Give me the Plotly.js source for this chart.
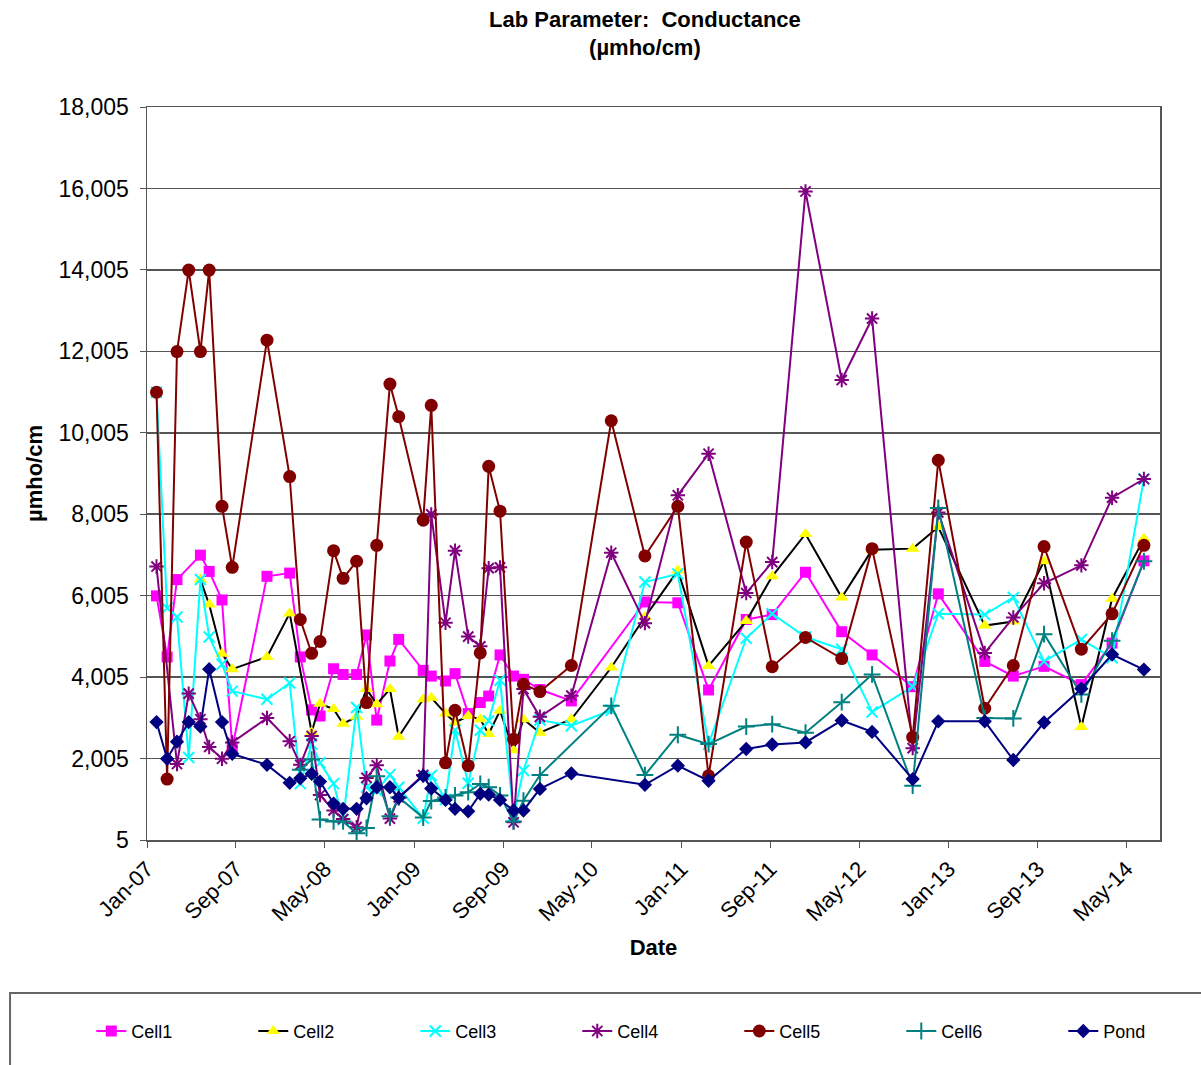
<!DOCTYPE html>
<html><head><meta charset="utf-8">
<script src="https://cdn.plot.ly/plotly-3.0.1.min.js"></script>
<style>body{margin:0;background:#fff}#chart{width:1201px;height:1065px}</style>
</head><body><div id="chart"></div>
<script>
const dates = ['2007-01-27','2007-02-25','2007-03-24','2007-04-25','2007-05-27','2007-06-20','2007-07-25','2007-08-22','2007-11-25','2008-01-26','2008-02-24','2008-03-26','2008-04-18','2008-05-25','2008-06-20','2008-07-27','2008-08-23','2008-09-20','2008-10-26','2008-11-19','2009-01-25','2009-02-16','2009-03-27','2009-04-22','2009-05-28','2009-06-30','2009-07-23','2009-08-23','2009-09-29','2009-10-26','2009-12-10','2010-03-06','2010-06-23','2010-09-23','2010-12-22','2011-03-16','2011-06-27','2011-09-06','2011-12-06','2012-03-14','2012-06-05','2012-09-24','2012-12-03','2013-04-09','2013-06-26','2013-09-18','2013-12-29','2014-03-23','2014-06-18'];
const cell1 = [6000,4500,6400,null,7000,6600,5900,2260,6480,6560,4500,3200,3050,4210,4070,4070,5040,2950,4400,4930,4170,4030,3910,4090,3110,3380,3540,4550,4030,3950,3700,3420,null,5850,5830,3690,5420,5540,6580,5120,4550,3770,6050,4390,4030,4270,3820,4840,6860];
const cell2 = [null,null,null,null,6400,5790,4580,4200,4500,5570,null,2650,3350,3220,2860,3030,3710,3340,3710,2540,3460,3500,3110,2890,3050,2970,2610,3180,2210,2970,2640,2970,4240,5480,6620,4280,5380,6480,7520,5960,7130,7160,7690,5270,5370,6850,2780,5930,7400];
const cell3 = [11000,5700,5480,2030,6400,4990,4320,3660,3460,3860,1390,2360,1900,1390,500,3260,1300,1220,1610,1300,540,1590,1000,2700,1400,2700,2930,3930,600,1710,2950,2810,3190,6340,6540,2360,4960,5560,4990,4690,3150,3770,5560,5540,5960,4390,4930,4480,8870];
const cell4 = [6720,null,1870,3600,2970,2290,2000,2400,3000,2430,1850,2560,1110,730,520,320,1530,1840,530,1050,1600,8000,5340,7110,5000,4760,6680,6700,440,3710,3030,3550,7060,5330,8470,9490,6070,6830,15930,11300,12810,2260,8050,4600,5470,6310,6750,8410,8870];
const cell5 = [11000,1500,12000,14000,12000,14000,8200,6700,12280,8930,5420,4590,4880,7110,6430,6850,3380,7240,11200,10400,7860,10680,1900,3190,1830,4600,9180,8080,2480,3830,3650,4290,10300,6980,8200,1580,7320,4260,4980,4460,7160,2530,9330,3240,4290,7210,4690,5560,7240];
const cell6 = [null,null,null,null,null,null,null,null,null,null,1730,1980,510,460,460,170,300,1570,590,1050,555,960,1050,1100,1180,1380,1300,1100,460,970,1600,null,3300,1600,2590,2360,2790,2850,2640,3390,4070,1340,8160,3000,2990,5060,3580,4900,6850];
const pond = [2900,2000,2420,2900,2790,4200,2900,2120,1850,1410,1520,1630,1440,900,770,770,1030,1300,1300,1040,1580,1270,990,770,710,1140,1120,990,730,730,1260,1640,null,1360,1830,1460,2240,2350,2400,2940,2660,1500,2920,2920,1970,2890,3720,4560,4190];

const seriesNames = ['Cell1','Cell2','Cell3','Cell4','Cell5','Cell6','Pond'];
const seriesData = [cell1,cell2,cell3,cell4,cell5,cell6,pond];
const lineColors = ['#FF00FF','#000000','#00FFFF','#800080','#800000','#008080','#000080'];
const markerColors = ['#FF00FF','#FFFF00','#00FFFF','#800080','#800000','#008080','#000080'];
const symbols = ['square','triangle-up','x-thin-open','asterisk-open','circle','cross-thin-open','diamond'];
const sizes = [11,12,11,12,13,12,11];

const traces = seriesNames.map((n,i)=>({
  x: dates, y: seriesData[i], name: n, type:'scatter', mode:'lines+markers',
  connectgaps: true,
  line:{color: lineColors[i], width: 2},
  marker:{symbol: symbols[i], size: sizes[i], color: markerColors[i],
    line:{color: markerColors[i], width: symbols[i].includes('open') ? 2 : 0}}
}));

const F = 'Arial, "Liberation Sans", sans-serif';
const layout = {
  width:1201, height:1065,
  paper_bgcolor:'#fff', plot_bgcolor:'#fff',
  margin:{l:147, r:41, t:107, b:225, autoexpand:false},
  font:{family:F, color:'#000'},
  title:{text:'<b>Lab Parameter:  Conductance<br>(µmho/cm)</b>', font:{family:F, size:22, color:'#000'},
    xref:'container', x:0.537, xanchor:'center', yref:'container', y:0.975, yanchor:'top'},
  xaxis:{type:'date', range:['2007-01-01','2014-08-01'], tick0:'2007-01-01', dtick:'M8', tickformat:'%b-%y',
    tickangle:-45, tickfont:{family:F, size:22}, ticks:'outside', ticklen:6, tickcolor:'#555',
    showgrid:false, showline:true, linecolor:'#555', linewidth:1.5, mirror:true, zeroline:false,
    title:{text:'<b>Date</b>', font:{family:F, size:22}, standoff:14}},
  yaxis:{range:[5,18005], tick0:5, dtick:2000, tickformat:',d', tickfont:{family:F, size:23},
    ticks:'outside', ticklen:6, tickcolor:'#555', ticklabelstandoff:6, showgrid:true, gridcolor:'#555', gridwidth:1.5,
    showline:true, linecolor:'#555', linewidth:1.5, mirror:true, zeroline:false,
    title:{text:'<b>µmho/cm</b>', font:{family:F, size:22}, standoff:10}},
  showlegend:true,
  legend:{orientation:'h', x:-0.055, xanchor:'left', y:-0.261, yanchor:'middle',
    font:{family:F, size:18}, entrywidth:117, entrywidthmode:'pixels', bgcolor:'rgba(0,0,0,0)', borderwidth:0},
  shapes:[{type:'rect', xref:'paper', yref:'paper', x0:-0.1352, x1:1.06, y0:-0.2087, y1:-0.33,
    line:{color:'#666', width:2}, fillcolor:'rgba(0,0,0,0)'}]
};
Plotly.newPlot('chart', traces, layout, {displayModeBar:false, staticPlot:true});
</script></body></html>
